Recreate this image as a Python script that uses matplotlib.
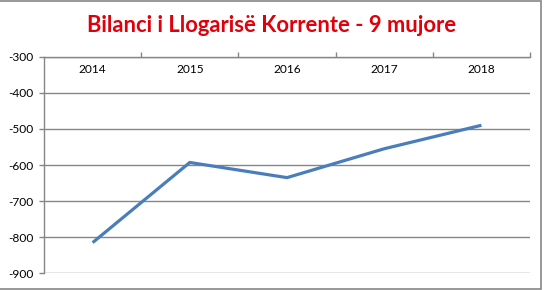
import matplotlib
matplotlib.use("Agg")
import matplotlib.pyplot as plt
from matplotlib.patches import Rectangle
from matplotlib.ticker import MultipleLocator, FixedLocator

years = ["2014", "2015", "2016", "2017", "2018"]
values = [-815, -593, -635, -555, -490]
title = "Bilanci i Llogarisë Korrente - 9 mujore"

plt.rcParams['font.family'] = ['Lato', 'DejaVu Sans']
plt.rcParams['axes.unicode_minus'] = False

W, H = 546, 290
fig = plt.figure(figsize=(W / 100, H / 100), dpi=100)
ax = fig.add_axes([44 / W, 1 - 273.3 / H, (530 - 44) / W, (273.3 - 56.7) / H])

x = list(range(len(years)))
ax.plot(x, values, color='#4A7EBB', linewidth=2.3, solid_capstyle='butt', solid_joinstyle='miter', zorder=3)

ax.set_xlim(-0.5, len(years) - 0.5)
ax.set_ylim(-900, -300)
ax.yaxis.set_major_locator(MultipleLocator(100))
ax.grid(axis='y', color='#868686', linewidth=1.0)
ax.set_axisbelow(True)

grey = '#868686'
for s in ['right', 'bottom']:
    ax.spines[s].set_visible(False)
for s in ['left', 'top']:
    ax.spines[s].set_color(grey)
    ax.spines[s].set_linewidth(1.0)

ax.set_xticks(x)
ax.set_xticklabels(years)
ax.xaxis.set_minor_locator(FixedLocator([i + 0.5 for i in x]))
ax.tick_params(axis='x', which='major', bottom=False, top=False, labelbottom=False, labeltop=True,
               pad=-17, labelsize=8.6, labelcolor='#000000')
ax.tick_params(axis='x', which='minor', bottom=False, top=True, direction='out', length=3.5, color=grey, width=1)
ax.tick_params(axis='y', which='major', direction='out', length=3.5, color=grey, width=1,
               labelsize=8.6, pad=4, labelcolor='#000000')

fig.text(272 / W, 1 - 26 / H, title, color='#E0000B', fontsize=15.8, fontweight='bold',
         ha='center', va='center')

fig.patches.append(Rectangle((-0.01, 1 - 288.5 / H), 540.5 / W + 0.01, 288 / H,
                             transform=fig.transFigure, fill=False, edgecolor=grey, linewidth=1.2,
                             figure=fig))

fig.savefig("out.png", dpi=100)
